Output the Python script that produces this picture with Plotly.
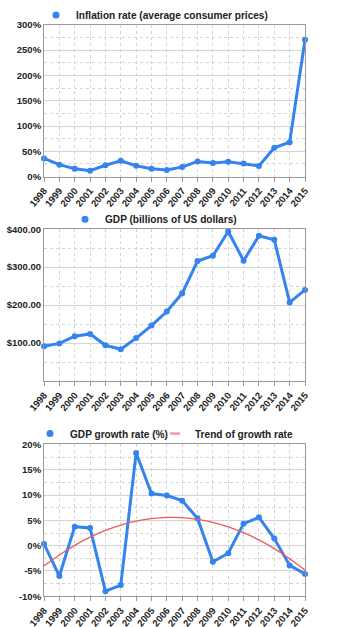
import plotly.graph_objects as go

years = [str(y) for y in range(1998, 2016)]
inflation = [36, 23.6, 15.7, 11.8, 22.4, 31.4, 21.6, 15.7, 13.2, 19, 30, 27, 29.5, 26, 21, 57, 68, 270.5]
gdp = [91.3, 99, 118, 124, 94, 83.5, 113, 146, 183, 231, 316, 330, 394, 317, 382.5, 372, 207, 240]
growth = [0.35, -6, 3.75, 3.5, -9, -7.8, 18.3, 10.3, 9.9, 8.9, 5.4, -3.2, -1.5, 4.35, 5.6, 1.4, -3.9, -5.6]
trend = [-4.0, -1.83, 0.06, 1.67, 3.01, 4.07, 4.85, 5.36, 5.59, 5.54, 5.21, 4.6, 3.72, 2.56, 1.13, -0.59, -2.58, -4.85]

BLUE = "#3483ef"
RED = "#ee5a5a"
FONT = "Liberation Sans"
H = 627.0

fig = go.Figure()

def py(px):
    return 1 - px / H

xdom = [44 / 350, 305 / 350]
doms = [(20, 173), (226, 379), (443, 596)]
axes = [("x", "y"), ("x2", "y2"), ("x3", "y3")]
legends = ["legend", "legend2", "legend3"]

series = [(inflation, "Inflation rate (average consumer prices)"),
          (gdp, "GDP (billions of US dollars)"),
          (growth, "GDP growth rate (%)")]

for i, (vals, name) in enumerate(series):
    xa, ya = axes[i]
    fig.add_trace(go.Scatter(x=years, y=vals, mode="lines+markers", xaxis=xa, yaxis=ya,
                             line=dict(color=BLUE, width=3), marker=dict(color=BLUE, size=6),
                             showlegend=False, cliponaxis=False))
    fig.add_trace(go.Scatter(x=[None], y=[None], mode="markers", xaxis=xa, yaxis=ya,
                             marker=dict(color=BLUE, size=7), name=name, legend=legends[i]))

fig.add_trace(go.Scatter(x=years, y=trend, mode="lines", xaxis="x3", yaxis="y3",
                         line=dict(color=RED, width=1.3, shape="spline"),
                         showlegend=False))
fig.add_trace(go.Scatter(x=[None], y=[None], mode="markers", xaxis="x3", yaxis="y3",
                         marker=dict(symbol="line-ew-open", size=7, color="#f29a9a",
                                     line=dict(color="#f29a9a", width=2.5)),
                         name="Trend of growth rate", legend="legend4"))

tickfont = dict(family=FONT, size=9.5, color="#222", weight="bold")
grid = "#d4d4d4"
for i in range(3):
    top, bot = doms[i]
    sfx = "" if i == 0 else str(i + 1)
    fig.layout["xaxis" + sfx] = dict(
        domain=xdom, anchor="y" + sfx, type="category", range=[0, 17],
        tickangle=-50, tickfont=tickfont, showgrid=True, gridcolor=grid, griddash="dot",
        gridwidth=1, showline=True, linecolor="#999", linewidth=1, mirror=True,
        ticks="outside", ticklen=4, tickcolor="#999", automargin=False)
    fig.layout["yaxis" + sfx] = dict(
        domain=[py(bot), py(top)], anchor="x" + sfx, tickfont=tickfont,
        showgrid=True, gridcolor=grid, gridwidth=1, showline=True, linecolor="#999",
        linewidth=1, mirror=True, zeroline=False, automargin=False, ticks="")

fig.layout.yaxis.update(range=[0, 300], tickvals=[0, 50, 100, 150, 200, 250, 300],
                        ticktext=["0%", "50%", "100%", "150%", "200%", "250%", "300%"],
                        minor=dict(dtick=25, tick0=0, showgrid=True, gridcolor=grid, griddash="dot"))
fig.layout.yaxis2.update(range=[0, 400], tickvals=[100, 200, 300, 400],
                         ticktext=["$100.00", "$200.00", "$300.00", "$400.00"],
                         minor=dict(dtick=50, tick0=0, showgrid=True, gridcolor=grid, griddash="dot"))
fig.layout.yaxis3.update(range=[-10, 20], tickvals=[-10, -5, 0, 5, 10, 15, 20],
                         ticktext=["-10%", "-5%", "0%", "5%", "10%", "15%", "20%"],
                         minor=dict(dtick=2.5, tick0=0, showgrid=True, gridcolor=grid, griddash="dot"))

legfont = dict(family=FONT, size=10.1, color="#222", weight="bold")
leg_pos = {"legend": (36, 10), "legend2": (65, 216), "legend3": (30, 432), "legend4": (155, 432)}
for lg, (x, y) in leg_pos.items():
    fig.layout[lg] = dict(orientation="h", x=x / 350, y=py(y), xanchor="left", yanchor="middle",
                          font=legfont, bgcolor="rgba(0,0,0,0)", itemwidth=30, tracegroupgap=0)

fig.update_layout(width=350, height=627, margin=dict(l=0, r=0, t=0, b=0),
                  paper_bgcolor="white", plot_bgcolor="white")

fig.write_html("out.html")
